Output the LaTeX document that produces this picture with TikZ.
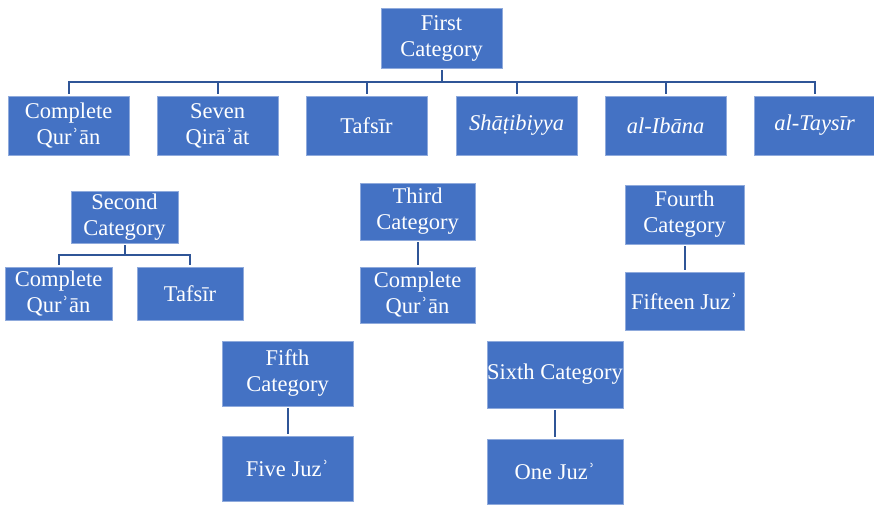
\documentclass[tikz,border=0pt]{standalone}
\usepackage{fontspec}
\setmainfont{Liberation Serif}
\usepackage{tikz}
\usetikzlibrary{positioning,calc}
\definecolor{boxblue}{HTML}{4472C4}
\definecolor{boxedge}{HTML}{8FAADC}
\definecolor{linkblue}{HTML}{2F5597}

\begin{document}
\begin{tikzpicture}[x=1pt,y=1pt,
    cat/.style={draw=boxedge,line width=0.8pt,fill=boxblue,text=white,align=center,
      inner sep=0pt,font=\fontsize{22.5}{26}\selectfont},
    wh/.style 2 args={minimum width=#1pt,minimum height=#2pt},
    link/.style={draw=linkblue,line width=2pt,shorten <=2pt}]
    \useasboundingbox (0,0) rectangle (874,504);

    % First Category and its six branches
    \node[cat,wh={121}{60}] (first) at (441.5,466) {First\\Category};
    \node[cat,wh={121}{59}] (cq1) at (68.5,378.5) {Complete\\Qurʾān};
    \node[cat,wh={121}{59}] (sq1) at (217.5,378.5) {Seven\\Qirāʾāt};
    \node[cat,wh={121}{59}] (tf1) at (366.5,378.5) {Tafsīr};
    \node[cat,wh={121}{59}] (sh1) at (516.5,378.5) {\itshape Shāṭibiyya};
    \node[cat,wh={121}{59}] (ib1) at (665.5,378.5) {\itshape al-Ibāna};
    \node[cat,wh={121}{59}] (ta1) at (814.5,378.5) {\itshape al-Taysīr};
    \coordinate (bar1) at (441.5,422);
    \draw[link] (first) -- (bar1);
    \foreach \c in {cq1,sq1,tf1,sh1,ib1,ta1}
        \draw[link] (\c) |- (bar1);

    % Second Category
    \node[cat,wh={107}{52}] (second) at (124.5,287) {Second\\Category};
    \node[cat,wh={107}{53}] (cq2) at (58.5,210.5) {Complete\\Qurʾān};
    \node[cat,wh={106}{53}] (tf2) at (190,210.5) {Tafsīr};
    \coordinate (bar2) at (124.5,249);
    \draw[link] (second) -- (bar2);
    \draw[link] (cq2) |- (bar2);
    \draw[link] (tf2) |- (bar2);

    % Third Category
    \node[cat,wh={115}{57}] (third) at (417.5,292.5) {Third\\Category};
    \node[cat,wh={115}{56}] (cq3) at (417.5,209) {Complete\\Qurʾān};
    \draw[link,shorten >=2pt] (third) -- (cq3);

    % Fourth Category
    \node[cat,wh={119}{59}] (fourth) at (684.5,289.5) {Fourth\\Category};
    \node[cat,wh={119}{58}] (fj4) at (684.5,203) {Fifteen Juzʾ};
    \draw[link,shorten >=2pt] (fourth) -- (fj4);

    % Fifth Category
    \node[cat,wh={131}{65}] (fifth) at (287.5,130.5) {Fifth\\Category};
    \node[cat,wh={131}{65}] (fj5) at (287.5,35.5) {Five Juzʾ};
    \draw[link,shorten >=2pt] (fifth) -- (fj5);

    % Sixth Category
    \node[cat,wh={136}{67}] (sixth) at (555,129.5) {Sixth Category};
    \node[cat,wh={136}{65}] (oj6) at (555,32.5) {One Juzʾ};
    \draw[link,shorten >=2pt] (sixth) -- (oj6);
\end{tikzpicture}
\end{document}
